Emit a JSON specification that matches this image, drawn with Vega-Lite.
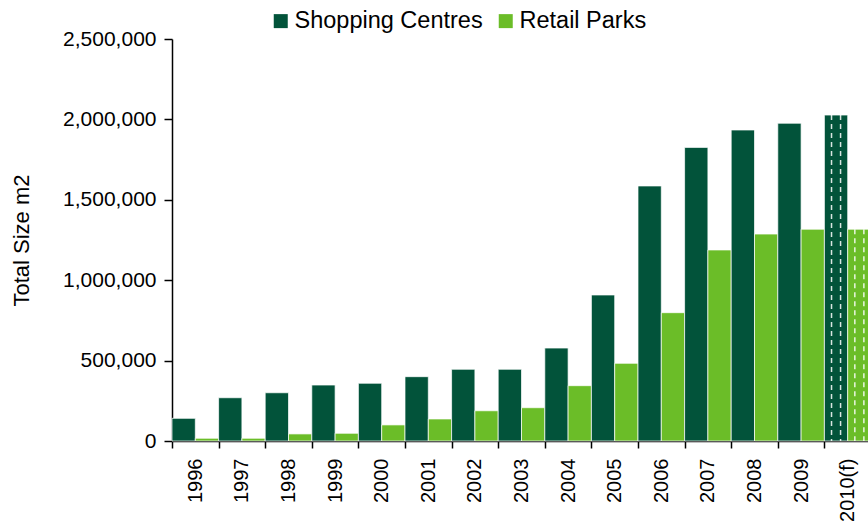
{
  "$schema": "https://vega.github.io/schema/vega-lite/v6.json",
  "autosize": "none",
  "width": 699,
  "height": 402,
  "padding": {"left": 172, "top": 39, "right": 0, "bottom": 83},
  "background": "white",
  "config": {
    "view": {"stroke": null},
    "font": "Liberation Sans",
    "axis": {"labelFont": "Liberation Sans", "titleFont": "Liberation Sans", "labelColor": "#000000", "titleColor": "#000000", "domainColor": "#000000", "tickColor": "#000000", "domainWidth": 1.5, "tickWidth": 1.5, "grid": false}
  },
  "data": {
    "values": [
      {"year": "1996", "series": "Shopping Centres", "value": 141000, "forecast": false},
      {"year": "1996", "series": "Retail Parks", "value": 17000, "forecast": false},
      {"year": "1997", "series": "Shopping Centres", "value": 269000, "forecast": false},
      {"year": "1997", "series": "Retail Parks", "value": 17000, "forecast": false},
      {"year": "1998", "series": "Shopping Centres", "value": 300000, "forecast": false},
      {"year": "1998", "series": "Retail Parks", "value": 44000, "forecast": false},
      {"year": "1999", "series": "Shopping Centres", "value": 348000, "forecast": false},
      {"year": "1999", "series": "Retail Parks", "value": 48000, "forecast": false},
      {"year": "2000", "series": "Shopping Centres", "value": 359000, "forecast": false},
      {"year": "2000", "series": "Retail Parks", "value": 100000, "forecast": false},
      {"year": "2001", "series": "Shopping Centres", "value": 400000, "forecast": false},
      {"year": "2001", "series": "Retail Parks", "value": 137000, "forecast": false},
      {"year": "2002", "series": "Shopping Centres", "value": 446000, "forecast": false},
      {"year": "2002", "series": "Retail Parks", "value": 188000, "forecast": false},
      {"year": "2003", "series": "Shopping Centres", "value": 446000, "forecast": false},
      {"year": "2003", "series": "Retail Parks", "value": 207000, "forecast": false},
      {"year": "2004", "series": "Shopping Centres", "value": 578000, "forecast": false},
      {"year": "2004", "series": "Retail Parks", "value": 344000, "forecast": false},
      {"year": "2005", "series": "Shopping Centres", "value": 908000, "forecast": false},
      {"year": "2005", "series": "Retail Parks", "value": 483000, "forecast": false},
      {"year": "2006", "series": "Shopping Centres", "value": 1586000, "forecast": false},
      {"year": "2006", "series": "Retail Parks", "value": 798000, "forecast": false},
      {"year": "2007", "series": "Shopping Centres", "value": 1826000, "forecast": false},
      {"year": "2007", "series": "Retail Parks", "value": 1188000, "forecast": false},
      {"year": "2008", "series": "Shopping Centres", "value": 1934000, "forecast": false},
      {"year": "2008", "series": "Retail Parks", "value": 1287000, "forecast": false},
      {"year": "2009", "series": "Shopping Centres", "value": 1976000, "forecast": false},
      {"year": "2009", "series": "Retail Parks", "value": 1317000, "forecast": false},
      {"year": "2010(f)", "series": "Shopping Centres", "value": 2027000, "forecast": true},
      {"year": "2010(f)", "series": "Retail Parks", "value": 1317000, "forecast": true}
    ]
  },
  "encoding": {
    "x": {
      "field": "year", "type": "nominal", "sort": null,
      "scale": {"paddingInner": 0, "paddingOuter": 0},
      "axis": {"title": null, "labelAngle": -90, "labelAlign": "right", "labelBaseline": "middle", "labelFontSize": 20, "labelPadding": 10, "tickSize": 7, "tickBand": "extent"}
    },
    "y": {
      "field": "value", "type": "quantitative",
      "scale": {"domain": [0, 2500000], "nice": false},
      "axis": {"title": "Total Size m2", "titleFontSize": 22, "titleFontWeight": "normal", "titlePadding": 29, "values": [0, 500000, 1000000, 1500000, 2000000, 2500000], "format": ",d", "labelFontSize": 21, "labelPadding": 8, "tickSize": 8}
    }
  },
  "layer": [
    {
      "mark": {"type": "bar", "stroke": "#ffffff", "strokeWidth": 1, "strokeOpacity": 0.7},
      "encoding": {
        "xOffset": {"field": "series", "type": "nominal", "sort": ["Shopping Centres", "Retail Parks"], "scale": {"paddingInner": 0, "paddingOuter": 0}},
        "color": {
          "field": "series", "type": "nominal",
          "scale": {"domain": ["Shopping Centres", "Retail Parks"], "range": ["#02533A", "#6BBD28"]},
          "legend": {"title": null, "orient": "none", "legendX": 97, "legendY": -30, "direction": "horizontal", "symbolType": "square", "symbolSize": 196, "symbolStrokeWidth": 0, "labelFontSize": 23.5, "labelLimit": 400, "labelColor": "#000000", "labelOffset": 2, "columnPadding": 11, "labelFont": "Liberation Sans"}
        }
      }
    },
    {
      "transform": [{"filter": "datum.forecast && datum.series === 'Shopping Centres'"}],
      "mark": {"type": "rule", "color": "#ffffff", "strokeDash": [5, 4], "strokeWidth": 1.5, "opacity": 0.85},
      "encoding": {"x": {"field": "year", "type": "nominal", "sort": null, "bandPosition": 0.153}, "y2": {"datum": 0}}
    },
    {
      "transform": [{"filter": "datum.forecast && datum.series === 'Shopping Centres'"}],
      "mark": {"type": "rule", "color": "#ffffff", "strokeDash": [5, 4], "strokeWidth": 1.5, "opacity": 0.85},
      "encoding": {"x": {"field": "year", "type": "nominal", "sort": null, "bandPosition": 0.347}, "y2": {"datum": 0}}
    },
    {
      "transform": [{"filter": "datum.forecast && datum.series === 'Retail Parks'"}],
      "mark": {"type": "rule", "color": "#ffffff", "strokeDash": [5, 4], "strokeWidth": 1.5, "opacity": 0.85},
      "encoding": {"x": {"field": "year", "type": "nominal", "sort": null, "bandPosition": 0.653}, "y2": {"datum": 0}}
    },
    {
      "transform": [{"filter": "datum.forecast && datum.series === 'Retail Parks'"}],
      "mark": {"type": "rule", "color": "#ffffff", "strokeDash": [5, 4], "strokeWidth": 1.5, "opacity": 0.85},
      "encoding": {"x": {"field": "year", "type": "nominal", "sort": null, "bandPosition": 0.847}, "y2": {"datum": 0}}
    }
  ]
}
